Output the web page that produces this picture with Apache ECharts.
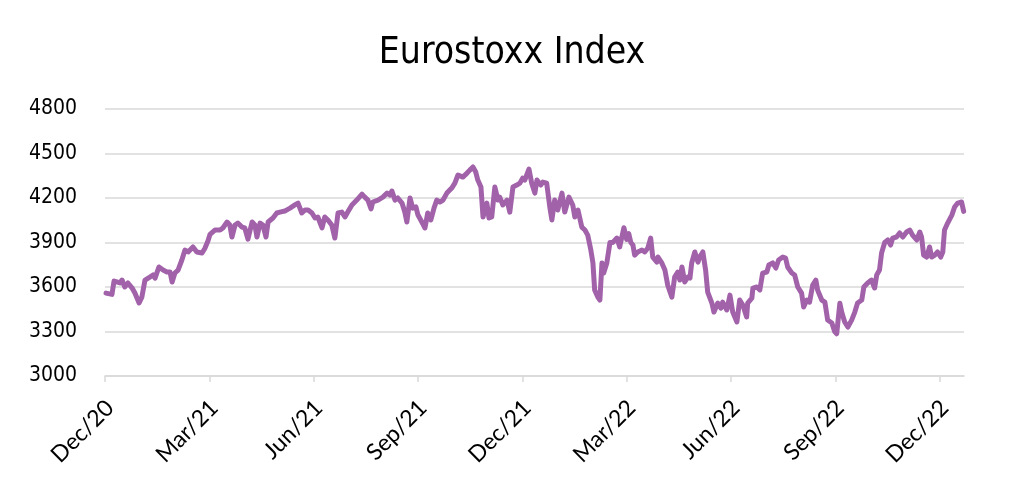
<!DOCTYPE html>
<html>
<head>
<meta charset="utf-8">
<script src="https://cdn.jsdelivr.net/npm/echarts@6/dist/echarts.min.js"></script>
<style>html,body{margin:0;padding:0;background:#fff;}#c{width:1024px;height:502px;}</style>
</head>
<body>
<div id="c"></div>
<script>
// Months elapsed since 1 Dec 2020 for each observation
const monthsSinceDec20 = [0.03,0.20,0.26,0.34,0.43,0.49,0.57,0.66,0.78,0.86,0.98,1.06,1.15,1.29,1.38,1.44,1.55,1.67,1.78,1.87,1.93,2.01,2.10,2.21,2.30,2.39,2.53,2.64,2.79,2.87,2.96,
3.02,3.16,3.31,3.39,3.51,3.59,3.65,3.74,3.82,3.94,4.02,4.11,4.23,4.31,4.37,4.46,4.54,4.63,4.69,4.83,4.94,5.03,5.17,5.32,5.46,5.55,5.66,5.75,5.84,5.95,
6.04,6.12,6.24,6.32,6.41,6.52,6.61,6.70,6.81,6.90,6.98,7.10,7.24,7.39,7.47,7.56,7.65,7.70,7.85,7.99,8.11,8.19,8.25,8.34,8.42,8.54,8.62,8.68,8.77,8.85,8.94,
9.00,9.11,9.20,9.28,9.37,9.46,9.54,9.63,9.72,9.83,9.97,10.06,10.15,10.29,10.41,10.49,10.58,10.66,10.72,10.81,10.87,10.98,11.04,11.12,11.21,11.30,11.35,11.44,11.56,11.64,11.73,11.84,11.93,
12.01,12.07,12.19,12.27,12.36,12.42,12.53,12.59,12.70,12.79,12.85,12.93,13.02,13.14,13.22,13.34,13.45,13.51,13.60,13.71,13.80,13.88,13.97,14.03,14.08,14.17,14.23,14.29,14.34,14.43,14.52,14.60,14.72,14.80,14.92,
15.00,15.06,15.12,15.18,15.23,15.32,15.44,15.52,15.61,15.69,15.75,15.87,15.90,16.01,16.10,16.18,16.30,16.38,16.47,16.53,16.59,16.67,16.76,16.82,16.87,16.96,17.05,17.10,17.19,17.27,17.33,17.45,17.51,17.62,17.71,17.76,17.88,17.97,
18.05,18.17,18.25,18.34,18.45,18.48,18.60,18.63,18.74,18.83,18.91,19.03,19.09,19.20,19.29,19.37,19.49,19.57,19.63,19.75,19.83,19.92,20.03,20.09,20.18,20.26,20.35,20.44,20.49,20.61,20.70,20.78,20.90,20.98,
21.04,21.13,21.19,21.27,21.36,21.47,21.56,21.64,21.76,21.82,21.93,22.04,22.13,22.19,22.27,22.33,22.42,22.51,22.59,22.65,22.76,22.85,22.94,23.05,23.14,23.22,23.34,23.43,23.48,23.54,23.63,23.71,23.77,23.86,23.94,
24.03,24.09,24.14,24.23,24.35,24.43,24.52,24.63,24.69];

// Eurostoxx index level
const indexLevel = [3559,3550,3640,3634,3627,3647,3600,3627,3593,3559,3492,3532,3647,3667,3681,3660,3735,3714,3701,3701,3634,3694,3714,3782,3849,3836,3870,3836,3829,3860,3910,
3955,3984,3984,3998,4038,4018,3937,4018,4031,4004,3998,3923,4038,4018,3937,4031,4018,3937,4038,4065,4099,4105,4112,4132,4153,4166,4099,4119,4119,4099,
4065,4072,3998,4072,4052,4018,3930,4099,4105,4072,4105,4153,4186,4226,4206,4186,4126,4173,4186,4206,4233,4220,4247,4186,4200,4166,4105,4038,4200,4132,4140,
4085,4038,3998,4099,4052,4132,4186,4173,4186,4233,4267,4300,4355,4341,4368,4388,4409,4375,4321,4274,4072,4166,4065,4072,4274,4186,4206,4153,4186,4105,4274,4287,4300,
4334,4321,4395,4300,4233,4321,4287,4307,4300,4139,4052,4186,4119,4233,4105,4206,4153,4072,4119,4004,3984,3950,3849,3762,3580,3532,3512,3762,3694,3762,3900,3900,3930,3870,4000,
3920,3960,3900,3883,3815,3836,3849,3836,3863,3930,3802,3768,3802,3762,3714,3613,3532,3667,3701,3647,3735,3634,3667,3660,3762,3836,3768,3802,3836,3714,3566,3492,3431,3492,3458,3498,3445,3545,
3431,3364,3512,3478,3398,3492,3525,3593,3600,3580,3694,3701,3748,3762,3728,3782,3802,3795,3735,3694,3681,3600,3559,3465,3512,3498,3613,3647,3580,3512,3498,3377,3357,3300,
3285,3490,3425,3364,3330,3377,3431,3492,3512,3600,3627,3647,3593,3681,3714,3829,3900,3917,3883,3930,3937,3964,3937,3971,3984,3950,3917,3971,3937,3815,3802,3870,3802,3815,3836,
3802,3836,3984,4031,4085,4139,4166,4173,4110];

const tickMonths = [0,3,6,9,12,15,18,21,24];
const tickLabels = ['Dec/20','Mar/21','Jun/21','Sep/21','Dec/21','Mar/22','Jun/22','Sep/22','Dec/22'];
const yTicks = [3000,3300,3600,3900,4200,4500,4800];

const data = monthsSinceDec20.map((m,i)=>[m, indexLevel[i]]);

const chart = echarts.init(document.getElementById('c'), null, {renderer:'canvas'});
chart.setOption({
  animation:false,
  backgroundColor:'#ffffff',
  title:{
    text:'Eurostoxx Index',
    left:'center',
    top:30,
    textStyle:{fontFamily:'DejaVu Sans Condensed',fontSize:37,fontWeight:'normal',color:'#000'}
  },
  grid:{left:105,right:60,top:109,bottom:126,containLabel:false},
  xAxis:{
    type:'value',
    min:0,
    max:24.7,
    splitLine:{show:false},
    axisLine:{show:true,lineStyle:{color:'#d9d9d9',width:1.5}},
    axisTick:{show:true,customValues:tickMonths,length:6,lineStyle:{color:'#d9d9d9',width:1.5}},
    axisLabel:{
      customValues:tickMonths,
      rotate:45,
      margin:33,
      padding:[0,-7,0,0],
      fontFamily:'Lato',
      fontSize:23,
      color:'#000',
      formatter:function(v){const i=tickMonths.indexOf(Math.round(v));return i>=0?tickLabels[i]:'';}
    }
  },
  yAxis:{
    type:'value',
    min:yTicks[0],
    max:yTicks[yTicks.length-1],
    interval:300,
    axisLine:{show:false},
    axisTick:{show:false},
    axisLabel:{fontFamily:'DejaVu Sans Condensed',fontSize:21,color:'#000',margin:28,formatter:function(v){return String(v);}},
    splitLine:{lineStyle:{color:'#d9d9d9',width:1.5}}
  },
  series:[{
    type:'line',
    data:data,
    showSymbol:false,
    smooth:false,
    lineStyle:{color:'#a262aa',width:5,join:'round',cap:'round'},
    itemStyle:{color:'#a262aa'}
  }]
});
</script>
</body>
</html>
